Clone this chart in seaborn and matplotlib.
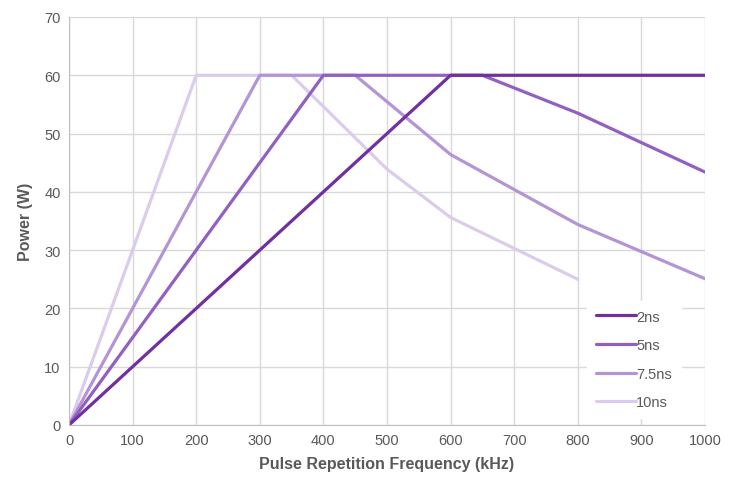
import pandas as pd
import numpy as np
import matplotlib.pyplot as plt
import seaborn as sns

# Power vs pulse repetition frequency for each pulse width

freq_2ns = [0, 600, 1000]
power_2ns = [0, 60, 60]

freq_5ns = [0, 400, 650, 800, 1000]
power_5ns = [0, 60, 60, 53.5, 43.4]

freq_7_5ns = [0, 300, 450, 600, 800, 1000]
power_7_5ns = [0, 60, 60, 46.4, 34.4, 25.1]

freq_10ns = [0, 200, 350, 500, 600, 800]
power_10ns = [0, 60, 60, 43.9, 35.6, 25.0]

labels = ['2ns', '5ns', '7.5ns', '10ns']
cores = ['#7030A0', '#9160C1', '#B494D6', '#DCCCEC']

frames = []
for lab, f, p in zip(labels,
                     [freq_2ns, freq_5ns, freq_7_5ns, freq_10ns],
                     [power_2ns, power_5ns, power_7_5ns, power_10ns]):
    frames.append(pd.DataFrame({'Frequencia': f, 'Potencia': p, 'Pulso': lab}))
df = pd.concat(frames, ignore_index=True)

sns.set_style("white")
plt.rcParams['font.family'] = ['Liberation Sans', 'DejaVu Sans']

fig = plt.figure(figsize=(7.36, 4.81), dpi=100)
ax = fig.add_axes([69/736, 55/481, 636/736, 408/481])

# desenha do mais claro ao mais escuro (2ns por cima)
for lab, cor in reversed(list(zip(labels, cores))):
    sns.lineplot(data=df[df['Pulso'] == lab], x='Frequencia', y='Potencia',
                 color=cor, linewidth=2.3, label=lab, ax=ax)

ax.set_xlim(0, 1000)
ax.set_ylim(0, 70)
ax.set_xticks(np.arange(0, 1001, 100))
ax.set_yticks(np.arange(0, 71, 10))
ax.grid(True, color='#D9D9D9', linewidth=1)
ax.set_axisbelow(True)
for s in ['top', 'right']:
    ax.spines[s].set_visible(False)
for s in ['left', 'bottom']:
    ax.spines[s].set_color('#BFBFBF')
ax.tick_params(axis='both', length=0, labelsize=10.5, colors='#595959', pad=6)

ax.set_xlabel('Pulse Repetition Frequency (kHz)', fontsize=11.5,
              fontweight='bold', color='#595959', labelpad=6)
ax.set_ylabel('Power (W)', fontsize=11.5, fontweight='bold',
              color='#595959', labelpad=8)

handles, leg_labels = ax.get_legend_handles_labels()
ordem = [leg_labels.index(l) for l in labels]
leg = ax.legend([handles[i] for i in ordem], labels, loc='lower right',
                bbox_to_anchor=(0.962, 0.017), borderaxespad=0,
                fontsize=10.5, frameon=True, facecolor='white',
                edgecolor='white', framealpha=1, handlelength=2.7,
                handletextpad=0.05, labelspacing=1.0, borderpad=0.6)
for t in leg.get_texts():
    t.set_color('#595959')

plt.savefig('out.png', dpi=100)
